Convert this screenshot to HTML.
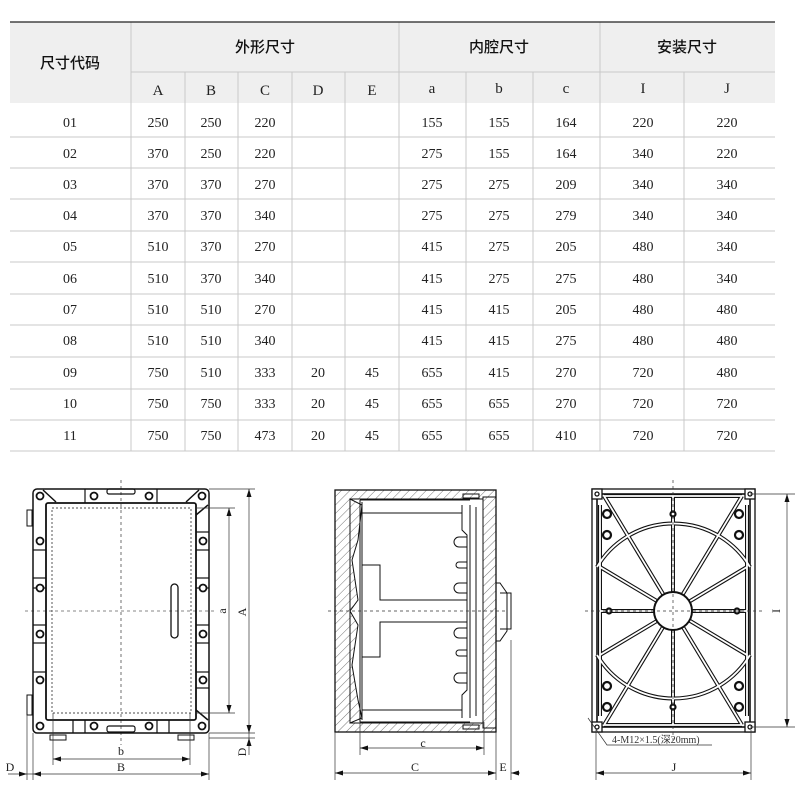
<!DOCTYPE html>
<html><head><meta charset="utf-8"><style>
body{margin:0;background:#fff;width:800px;height:800px;overflow:hidden;position:relative}
svg{position:absolute;left:0;top:0}
</style></head><body>
<svg width="800" height="800" viewBox="0 0 800 800" xmlns="http://www.w3.org/2000/svg">
<defs>
<pattern id="h" width="6" height="6" patternUnits="userSpaceOnUse" patternTransform="rotate(45)">
<rect width="6" height="6" fill="#fff"/><line x1="0" y1="0" x2="0" y2="6" stroke="#555" stroke-width="0.8"/></pattern>
</defs>
<!-- TABLE -->
<rect x="10" y="22" width="765" height="81" fill="#efefef"/>
<g stroke="#c8c8c8" stroke-width="1">
<line x1="131" y1="72" x2="399" y2="72"/><line x1="399" y1="72" x2="775" y2="72"/>
<line x1="10" y1="137" x2="775" y2="137"/>
<line x1="10" y1="168" x2="775" y2="168"/><line x1="10" y1="199" x2="775" y2="199"/>
<line x1="10" y1="231" x2="775" y2="231"/><line x1="10" y1="262" x2="775" y2="262"/>
<line x1="10" y1="294" x2="775" y2="294"/><line x1="10" y1="325" x2="775" y2="325"/>
<line x1="10" y1="357" x2="775" y2="357"/><line x1="10" y1="389" x2="775" y2="389"/>
<line x1="10" y1="420" x2="775" y2="420"/><line x1="10" y1="451" x2="775" y2="451"/>
<line x1="131" y1="22" x2="131" y2="451"/><line x1="399" y1="22" x2="399" y2="451"/><line x1="600" y1="22" x2="600" y2="451"/>
<line x1="185" y1="72" x2="185" y2="451"/><line x1="238" y1="72" x2="238" y2="451"/><line x1="292" y1="72" x2="292" y2="451"/><line x1="345" y1="72" x2="345" y2="451"/>
<line x1="466" y1="72" x2="466" y2="451"/><line x1="533" y1="72" x2="533" y2="451"/><line x1="684" y1="72" x2="684" y2="451"/>
</g>
<line x1="10" y1="22" x2="775" y2="22" stroke="#222" stroke-width="1.2"/>
<g font-family="'Noto Sans CJK SC',sans-serif" font-size="15" font-weight="500" fill="#111" text-anchor="middle">
<text x="70" y="68">尺寸代码</text><text x="265" y="52">外形尺寸</text><text x="499" y="52">内腔尺寸</text><text x="687" y="52">安装尺寸</text>
</g>
<g font-family="'Liberation Serif',serif" font-size="15" fill="#222" text-anchor="middle">
<text x="158" y="95">A</text><text x="211" y="95">B</text><text x="265" y="95">C</text><text x="318" y="95">D</text><text x="372" y="95">E</text>
<text x="432" y="93">a</text><text x="499" y="93">b</text><text x="566" y="93">c</text><text x="643" y="93">I</text><text x="727" y="93">J</text>
</g>
<g font-family="'Liberation Serif',serif" font-size="14" fill="#222" text-anchor="middle">
<g transform="translate(0,127)"><text x="70">01</text><text x="158">250</text><text x="211">250</text><text x="265">220</text><text x="432">155</text><text x="499">155</text><text x="566">164</text><text x="643">220</text><text x="727">220</text></g>
<g transform="translate(0,158)"><text x="70">02</text><text x="158">370</text><text x="211">250</text><text x="265">220</text><text x="432">275</text><text x="499">155</text><text x="566">164</text><text x="643">340</text><text x="727">220</text></g>
<g transform="translate(0,189)"><text x="70">03</text><text x="158">370</text><text x="211">370</text><text x="265">270</text><text x="432">275</text><text x="499">275</text><text x="566">209</text><text x="643">340</text><text x="727">340</text></g>
<g transform="translate(0,220)"><text x="70">04</text><text x="158">370</text><text x="211">370</text><text x="265">340</text><text x="432">275</text><text x="499">275</text><text x="566">279</text><text x="643">340</text><text x="727">340</text></g>
<g transform="translate(0,251)"><text x="70">05</text><text x="158">510</text><text x="211">370</text><text x="265">270</text><text x="432">415</text><text x="499">275</text><text x="566">205</text><text x="643">480</text><text x="727">340</text></g>
<g transform="translate(0,283)"><text x="70">06</text><text x="158">510</text><text x="211">370</text><text x="265">340</text><text x="432">415</text><text x="499">275</text><text x="566">275</text><text x="643">480</text><text x="727">340</text></g>
<g transform="translate(0,314)"><text x="70">07</text><text x="158">510</text><text x="211">510</text><text x="265">270</text><text x="432">415</text><text x="499">415</text><text x="566">205</text><text x="643">480</text><text x="727">480</text></g>
<g transform="translate(0,345)"><text x="70">08</text><text x="158">510</text><text x="211">510</text><text x="265">340</text><text x="432">415</text><text x="499">415</text><text x="566">275</text><text x="643">480</text><text x="727">480</text></g>
<g transform="translate(0,377)"><text x="70">09</text><text x="158">750</text><text x="211">510</text><text x="265">333</text><text x="318">20</text><text x="372">45</text><text x="432">655</text><text x="499">415</text><text x="566">270</text><text x="643">720</text><text x="727">480</text></g>
<g transform="translate(0,408)"><text x="70">10</text><text x="158">750</text><text x="211">750</text><text x="265">333</text><text x="318">20</text><text x="372">45</text><text x="432">655</text><text x="499">655</text><text x="566">270</text><text x="643">720</text><text x="727">720</text></g>
<g transform="translate(0,440)"><text x="70">11</text><text x="158">750</text><text x="211">750</text><text x="265">473</text><text x="318">20</text><text x="372">45</text><text x="432">655</text><text x="499">655</text><text x="566">410</text><text x="643">720</text><text x="727">720</text></g>
</g>

<!-- LEFT DRAWING -->
<g fill="none" stroke="#111">
<rect x="33" y="489" width="176" height="244" rx="4" stroke-width="1.5"/>
<rect x="46" y="503" width="150" height="217" rx="2" stroke-width="1.8"/>
<rect x="52" y="508" width="139" height="205" stroke-dasharray="2,2" stroke-width="0.7"/>
<line x1="121" y1="480" x2="121" y2="745" stroke-dasharray="3,3" stroke-width="0.6"/>
<line x1="25" y1="611" x2="215" y2="611" stroke-dasharray="3,3" stroke-width="0.6"/>
<line x1="43" y1="490" x2="56" y2="502" stroke-width="1.5"/><line x1="199" y1="490" x2="186" y2="502" stroke-width="1.5"/>
<line x1="208" y1="505" x2="196" y2="515" stroke-width="1.5"/><line x1="208" y1="720" x2="196" y2="710" stroke-width="1.5"/>
<rect x="107" y="489" width="28" height="5" rx="2" stroke-width="1.2"/>
<rect x="107" y="726" width="28" height="6" rx="2" stroke-width="1.2"/>
<line x1="85" y1="489" x2="85" y2="503" stroke-width="1.2"/><line x1="157" y1="489" x2="157" y2="503" stroke-width="1.2"/>
<line x1="73" y1="720" x2="73" y2="733" stroke-width="1.2"/><line x1="85" y1="720" x2="85" y2="733" stroke-width="1.2"/>
<line x1="157" y1="720" x2="157" y2="733" stroke-width="1.2"/><line x1="169" y1="720" x2="169" y2="733" stroke-width="1.2"/>
<g stroke-width="1.2">
<line x1="33" y1="550" x2="46" y2="550"/><line x1="33" y1="578" x2="46" y2="578"/><line x1="33" y1="588" x2="46" y2="588"/><line x1="33" y1="625" x2="46" y2="625"/><line x1="33" y1="643" x2="46" y2="643"/><line x1="33" y1="672" x2="46" y2="672"/>
<line x1="196" y1="532" x2="209" y2="532"/><line x1="196" y1="550" x2="209" y2="550"/><line x1="196" y1="578" x2="209" y2="578"/><line x1="196" y1="588" x2="209" y2="588"/><line x1="196" y1="625" x2="209" y2="625"/><line x1="196" y1="643" x2="209" y2="643"/><line x1="196" y1="672" x2="209" y2="672"/><line x1="196" y1="688" x2="209" y2="688"/>
</g>
<rect x="27" y="510" width="5" height="16" stroke-width="1"/><rect x="27" y="695" width="5" height="20" stroke-width="1"/>
<rect x="50" y="735" width="16" height="5" stroke-width="1"/><rect x="178" y="735" width="16" height="5" stroke-width="1"/>
<rect x="171" y="584" width="7" height="54" rx="3.5" stroke-width="1.3"/>
</g>
<g fill="#fff" stroke="#111" stroke-width="1.8">
<circle cx="40" cy="496" r="3.5"/><circle cx="94" cy="496" r="3.5"/><circle cx="149" cy="496" r="3.5"/><circle cx="202" cy="496" r="3.5"/>
<circle cx="40" cy="726" r="3.5"/><circle cx="94" cy="726" r="3.5"/><circle cx="149" cy="726" r="3.5"/><circle cx="202" cy="726" r="3.5"/>
<circle cx="40" cy="541" r="3.5"/><circle cx="40" cy="588" r="3.5"/><circle cx="40" cy="634" r="3.5"/><circle cx="40" cy="680" r="3.5"/>
<circle cx="203" cy="541" r="3.5"/><circle cx="203" cy="588" r="3.5"/><circle cx="203" cy="634" r="3.5"/><circle cx="203" cy="680" r="3.5"/>
</g>
<g stroke="#333" stroke-width="0.7" fill="none">
<line x1="209" y1="489" x2="255" y2="489"/><line x1="196" y1="508" x2="235" y2="508"/><line x1="196" y1="713" x2="235" y2="713"/><line x1="209" y1="733" x2="255" y2="733"/><line x1="209" y1="738" x2="255" y2="738"/>
<line x1="249" y1="489" x2="249" y2="755"/><line x1="229" y1="508" x2="229" y2="713"/>
<line x1="53" y1="713" x2="53" y2="765"/><line x1="190" y1="713" x2="190" y2="765"/><line x1="53" y1="759" x2="190" y2="759"/>
<line x1="33" y1="733" x2="33" y2="780"/><line x1="209" y1="733" x2="209" y2="780"/><line x1="27" y1="715" x2="27" y2="780"/>
<line x1="8" y1="774" x2="209" y2="774"/>
</g>
<g fill="#111">
<path d="M249 489l-2.5 8h5z"/><path d="M249 733l-2.5 -8h5z"/><path d="M249 738l-2.5 8h5z"/>
<path d="M229 508l-2.5 8h5z"/><path d="M229 713l-2.5 -8h5z"/>
<path d="M53 759l8 -2.5v5z"/><path d="M190 759l-8 -2.5v5z"/>
<path d="M33 774l8 -2.5v5z"/><path d="M209 774l-8 -2.5v5z"/><path d="M27 774l-8 -2.5v5z"/>
</g>
<g font-family="'Liberation Serif',serif" font-size="12" fill="#222" text-anchor="middle">
<text x="121" y="755">b</text><text x="121" y="771">B</text><text x="10" y="771">D</text>
<text transform="translate(246,612) rotate(-90)">A</text><text transform="translate(226,611) rotate(-90)">a</text><text transform="translate(246,752) rotate(-90)">D</text>
</g>

<!-- MIDDLE DRAWING -->
<g stroke="#111" stroke-width="1">
<path d="M335 490H496V732H335Z M350 499H483V723H350Z" fill="url(#h)" fill-rule="evenodd"/>
<path d="M483 497 H496 V728 H483Z" fill="url(#h)"/>
<path d="M350 499 L362 505 L358 540 L352 560 L358 600 L350 611 L358 625 L352 665 L358 700 L362 718 L350 723Z" fill="url(#h)"/>
</g>
<g fill="none" stroke="#111" stroke-width="1">
<rect x="335" y="490" width="161" height="242" stroke-width="1.3"/>
<line x1="360" y1="500" x2="360" y2="722"/><line x1="362" y1="502" x2="362" y2="720"/>
<line x1="360" y1="500" x2="470" y2="500"/><line x1="360" y1="722" x2="470" y2="722"/>
<line x1="362" y1="513" x2="462" y2="513"/><line x1="362" y1="710" x2="462" y2="710"/>
<path d="M462 505 V530 L467 535 V690 L462 695 V718"/>
<path d="M470 505 V718"/><path d="M476 507 V716"/>
<path d="M362 565 H380 V600 H467 M362 657 H380 V622 H467"/>
<path d="M467 537 h-8 a4 4 0 0 0 0 10 h8 M467 562 h-8 a3 3 0 0 0 0 6 h8 M467 583 h-8 a4 4 0 0 0 0 10 h8 M467 628 h-8 a4 4 0 0 0 0 10 h8 M467 650 h-8 a3 3 0 0 0 0 6 h8 M467 673 h-8 a4 4 0 0 0 0 10 h8"/>
<path d="M496 583 h4 l7 10 v38 l-7 10 h-4"/><path d="M500 593 h11 v36 h-11"/>
<rect x="463" y="494" width="16" height="4"/><rect x="463" y="725" width="16" height="4"/>
</g>
<g stroke="#333" stroke-width="0.7" fill="none">
<line x1="328" y1="611" x2="505" y2="611" stroke-dasharray="3,3"/>
<line x1="335" y1="732" x2="335" y2="780"/><line x1="496" y1="732" x2="496" y2="780"/><line x1="511" y1="640" x2="511" y2="780"/>
<line x1="360" y1="722" x2="360" y2="755"/><line x1="484" y1="722" x2="484" y2="755"/>
<line x1="360" y1="748" x2="484" y2="748"/><line x1="335" y1="773" x2="496" y2="773"/><line x1="511" y1="773" x2="520" y2="773"/>
</g>
<g fill="#111">
<path d="M360 748l8 -2.5v5z"/><path d="M484 748l-8 -2.5v5z"/><path d="M335 773l8 -2.5v5z"/><path d="M496 773l-8 -2.5v5z"/><path d="M511 773l8 -2.5v5z"/>
</g>
<g font-family="'Liberation Serif',serif" font-size="12" fill="#222" text-anchor="middle">
<text x="423" y="747">c</text><text x="415" y="771">C</text><text x="503" y="771">E</text>
</g>

<!-- RIGHT DRAWING -->
<g fill="none" stroke="#111">
<rect x="592" y="489" width="163" height="243" stroke-width="1.3"/>
<rect x="597" y="494" width="153" height="233" stroke-width="1.6"/>
<g stroke-width="4">
<line x1="604" y1="496" x2="742" y2="496"/><line x1="604" y1="725" x2="742" y2="725"/>
<line x1="600" y1="505" x2="600" y2="716"/><line x1="747" y1="505" x2="747" y2="716"/>
<path d="M597 567 A89 89 0 0 1 750 567"/><path d="M597 655 A89 89 0 0 0 750 655"/>
<line x1="673" y1="496" x2="673" y2="725"/><line x1="600" y1="611" x2="747" y2="611"/>
<line x1="604" y1="496" x2="742" y2="725"/><line x1="742" y1="496" x2="604" y2="725"/>
<line x1="600" y1="567" x2="747" y2="655"/><line x1="747" y1="567" x2="600" y2="655"/>
</g>
<g stroke="#fff" stroke-width="1.8">
<line x1="604" y1="496" x2="742" y2="496"/><line x1="604" y1="725" x2="742" y2="725"/>
<line x1="600" y1="505" x2="600" y2="716"/><line x1="747" y1="505" x2="747" y2="716"/>
<path d="M597 567 A89 89 0 0 1 750 567"/><path d="M597 655 A89 89 0 0 0 750 655"/>
<line x1="673" y1="496" x2="673" y2="725"/><line x1="600" y1="611" x2="747" y2="611"/>
<line x1="604" y1="496" x2="742" y2="725"/><line x1="742" y1="496" x2="604" y2="725"/>
<line x1="600" y1="567" x2="747" y2="655"/><line x1="747" y1="567" x2="600" y2="655"/>
</g>
<circle cx="673" cy="611" r="19" fill="#fff" stroke-width="2"/>
<g stroke-width="2.2" fill="#fff">
<circle cx="607" cy="514" r="4"/><circle cx="607" cy="535" r="4"/><circle cx="739" cy="514" r="4"/><circle cx="739" cy="535" r="4"/>
<circle cx="607" cy="686" r="4"/><circle cx="607" cy="707" r="4"/><circle cx="739" cy="686" r="4"/><circle cx="739" cy="707" r="4"/>
<circle cx="673" cy="514" r="2.5"/><circle cx="673" cy="707" r="2.5"/><circle cx="609" cy="611" r="2.5"/><circle cx="737" cy="611" r="2.5"/>
</g>
<g stroke-width="1.3" fill="#fff">
<rect x="592" y="489" width="10" height="10"/><rect x="745" y="489" width="10" height="10"/><rect x="592" y="722" width="10" height="10"/><rect x="745" y="722" width="10" height="10"/>
<circle cx="597" cy="494" r="2"/><circle cx="750" cy="494" r="2"/><circle cx="597" cy="727" r="2"/><circle cx="750" cy="727" r="2"/>
</g>
</g>
<g stroke="#333" stroke-width="0.7" fill="none">
<line x1="673" y1="480" x2="673" y2="742" stroke-dasharray="3,3"/><line x1="585" y1="611" x2="765" y2="611" stroke-dasharray="3,3"/>
<line x1="750" y1="494" x2="795" y2="494"/><line x1="750" y1="727" x2="795" y2="727"/><line x1="787" y1="494" x2="787" y2="727"/>
<line x1="596" y1="730" x2="596" y2="780"/><line x1="751" y1="730" x2="751" y2="780"/><line x1="596" y1="773" x2="751" y2="773"/>
<path d="M588 718 L600 735 L607 745 H712"/>
</g>
<g fill="#111">
<path d="M787 494l-2.5 8h5z"/><path d="M787 727l-2.5 -8h5z"/><path d="M596 773l8 -2.5v5z"/><path d="M751 773l-8 -2.5v5z"/>
</g>
<g font-family="'Liberation Serif','Noto Sans CJK SC',sans-serif" font-size="10" fill="#333">
<text x="612" y="743">4-M12×1.5(深20mm)</text>
</g>
<g font-family="'Liberation Serif',serif" font-size="12" fill="#222" text-anchor="middle">
<text x="674" y="771">J</text><text transform="translate(780,611) rotate(-90)">I</text>
</g>
</svg>
</body></html>
